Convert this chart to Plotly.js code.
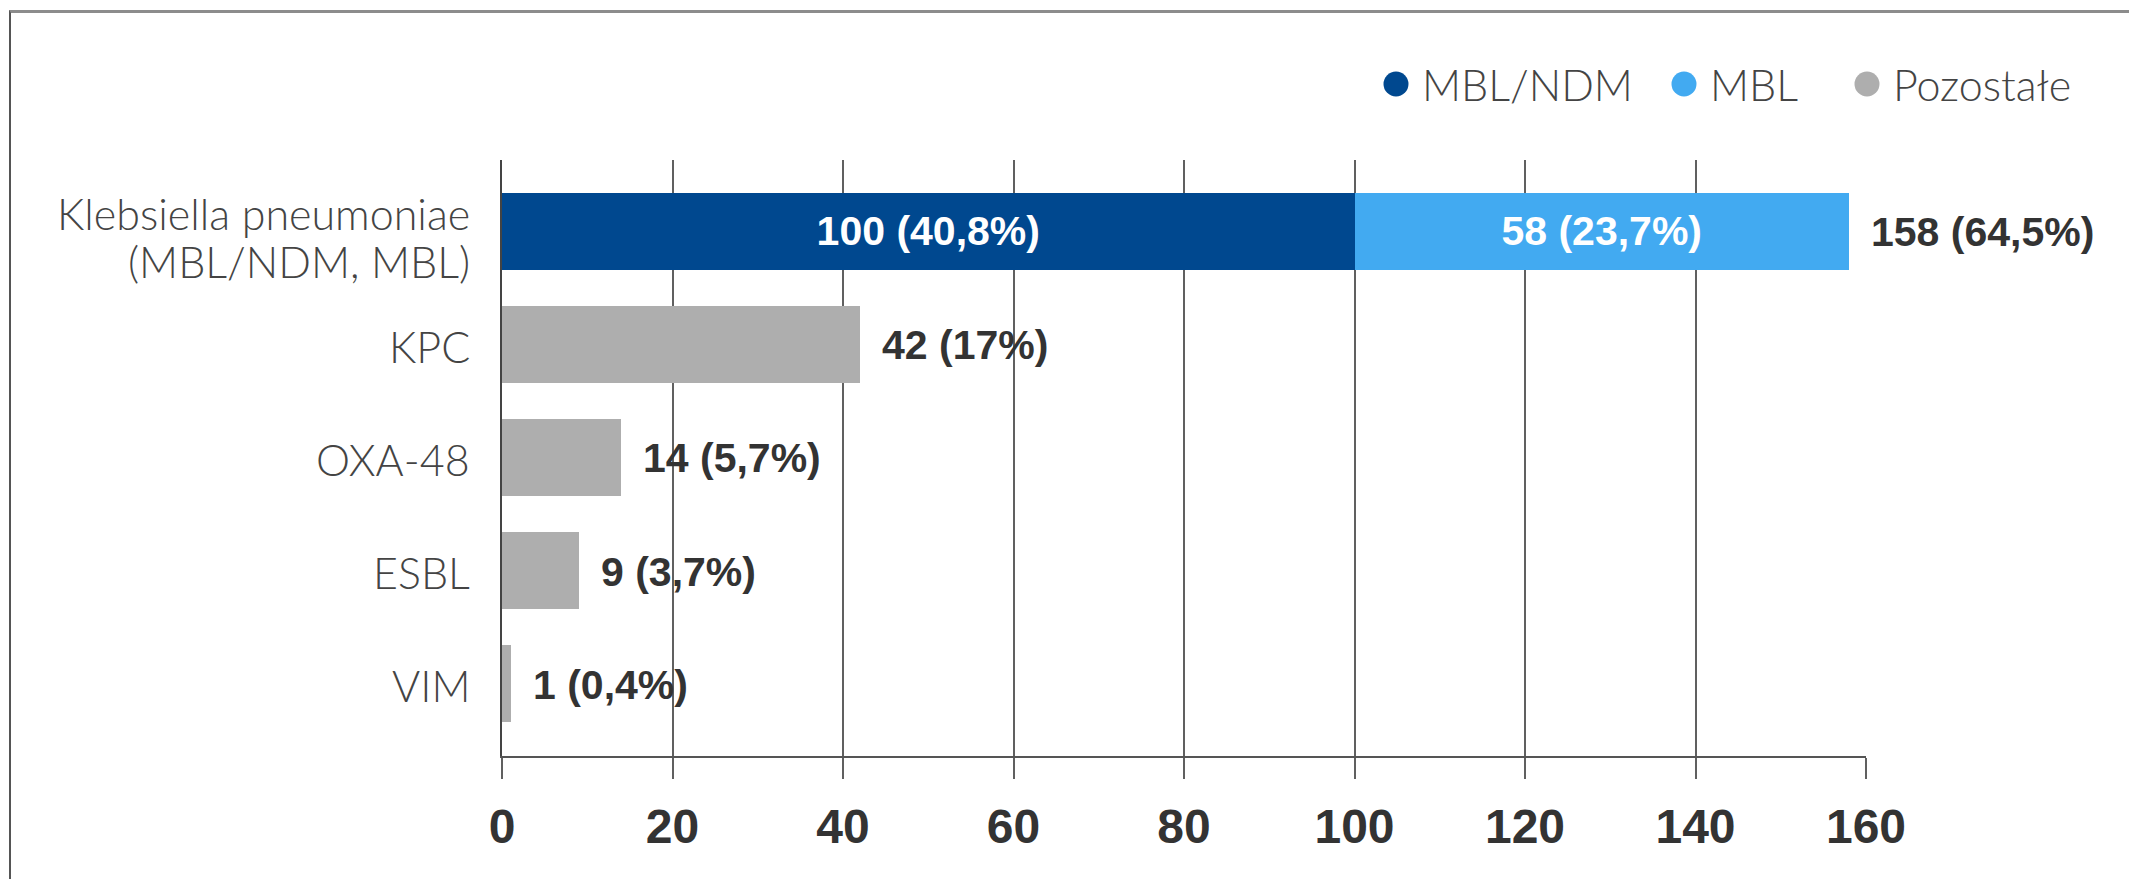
<!DOCTYPE html>
<html>
<head>
<meta charset="utf-8">
<script src="https://cdn.plot.ly/plotly-3.0.1.min.js"></script>
<style>
  html, body { margin: 0; padding: 0; background: #ffffff; }
  #wrap { position: relative; width: 2129px; height: 879px; overflow: hidden; }
  #frame {
    position: absolute; left: 9px; top: 10px; right: -10px; bottom: -10px;
    border-left: 2px solid #555555; border-top: 3px solid #8c8c8c;
    pointer-events: none;
  }
  #chart { position: absolute; left: 0; top: 0; width: 2129px; height: 879px; }
</style>
</head>
<body>
<div id="wrap">
  <div id="frame"></div>
  <div id="chart"></div>
</div>
<script>
// Rows, top to bottom
const categories = ['Klebsiella pneumoniae (MBL/NDM, MBL)', 'KPC', 'OXA-48', 'ESBL', 'VIM'];
const categoryLines = [['Klebsiella pneumoniae', '(MBL/NDM, MBL)'], ['KPC'], ['OXA-48'], ['ESBL'], ['VIM']];

// Klebsiella pneumoniae split into MBL/NDM and MBL
const kpCategories = ['Klebsiella pneumoniae (MBL/NDM, MBL)'];
const mblNdmValues = [100];
const mblNdmShares = ['40,8%'];
const mblValues = [58];
const mblShares = ['23,7%'];
const kpTotalShares = ['64,5%'];

// Remaining mechanisms
const otherCategories = ['KPC', 'OXA-48', 'ESBL', 'VIM'];
const otherValues = [42, 14, 9, 1];
const otherShares = ['17%', '5,7%', '3,7%', '0,4%'];

const seriesNames = ['MBL/NDM', 'MBL', 'Pozostałe'];
const seriesColors = ['#00488f', '#42aaf1', '#aeaeae'];

const xTicks = [0, 20, 40, 60, 80, 100, 120, 140, 160];

const lightFont = 'Lato, Roboto, sans-serif';
const boldFont = 'Liberation Sans, Arial, sans-serif';

const label = (v, s) => v + ' (' + s + ')';

const traces = [
  {
    type: 'bar', orientation: 'h', name: seriesNames[0],
    y: kpCategories, x: mblNdmValues,
    marker: { color: seriesColors[0] },
    text: mblNdmValues.map((v, i) => label(v, mblNdmShares[i])),
    textposition: 'inside', insidetextanchor: 'middle', constraintext: 'none',
    textfont: { family: boldFont, size: 41, color: '#ffffff', weight: 'bold' },
    showlegend: false, hoverinfo: 'skip'
  },
  {
    type: 'bar', orientation: 'h', name: seriesNames[1],
    y: kpCategories, x: mblValues,
    marker: { color: seriesColors[1] },
    text: mblValues.map((v, i) => label(v, mblShares[i])),
    textposition: 'inside', insidetextanchor: 'middle', constraintext: 'none',
    textfont: { family: boldFont, size: 41, color: '#ffffff', weight: 'bold' },
    showlegend: false, hoverinfo: 'skip'
  },
  {
    type: 'bar', orientation: 'h', name: seriesNames[2],
    y: otherCategories, x: otherValues,
    marker: { color: seriesColors[2] },
    showlegend: false, hoverinfo: 'skip'
  }
];

const annotations = [];

// Category labels, one annotation per text line
const labelFont = { family: lightFont, size: 43, color: '#444444', weight: 300 };
const lineGap = 48;
categories.forEach((cat, i) => {
  const lines = categoryLines[i];
  lines.forEach((txt, k) => {
    const down = (k - (lines.length - 1) / 2) * lineGap + (lines.length > 1 ? 6 : 2);
    annotations.push({
      xref: 'paper', yref: 'y', x: 0, y: cat,
      xanchor: 'right', yanchor: 'middle', xshift: -30, yshift: -down,
      text: txt, showarrow: false, font: labelFont
    });
  });
});

// Value labels to the right of the bars
const valueFont = { family: boldFont, size: 41, color: '#333333', weight: 'bold' };
kpCategories.forEach((cat, i) => {
  const total = mblNdmValues[i] + mblValues[i];
  annotations.push({
    xref: 'x', yref: 'y', x: total, y: cat, xanchor: 'left', yanchor: 'middle',
    xshift: 20, yshift: -1, text: label(total, kpTotalShares[i]),
    showarrow: false, font: valueFont
  });
});
otherCategories.forEach((cat, i) => {
  annotations.push({
    xref: 'x', yref: 'y', x: otherValues[i], y: cat, xanchor: 'left', yanchor: 'middle',
    xshift: 20, yshift: -1, text: label(otherValues[i], otherShares[i]),
    showarrow: false, font: valueFont
  });
});

// Legend drawn as round swatches with text
const plotLeft = 502, plotWidth = 1364, plotTop = 160, plotHeight = 596;
const legendMarkerPx = [1396, 1684, 1867];
const legendYPx = 84;
const toPaperX = px => (px - plotLeft) / plotWidth;
const toPaperY = py => (plotTop + plotHeight - py) / plotHeight;
const shapes = [];
seriesNames.forEach((name, i) => {
  const ax = toPaperX(legendMarkerPx[i]);
  const ay = toPaperY(legendYPx);
  shapes.push({
    type: 'circle', xref: 'paper', yref: 'paper',
    xsizemode: 'pixel', ysizemode: 'pixel', xanchor: ax, yanchor: ay,
    x0: -12.5, x1: 12.5, y0: -12.5, y1: 12.5,
    fillcolor: seriesColors[i], line: { width: 0 }
  });
  annotations.push({
    xref: 'paper', yref: 'paper', x: ax, y: ay, xanchor: 'left', yanchor: 'middle',
    xshift: 24, text: name, showarrow: false, font: labelFont
  });
});

const layout = {
  width: 2129, height: 879,
  margin: { l: plotLeft, r: 2129 - plotLeft - plotWidth, t: plotTop, b: 879 - plotTop - plotHeight, pad: 0 },
  paper_bgcolor: 'rgba(0,0,0,0)', plot_bgcolor: 'rgba(0,0,0,0)',
  barmode: 'stack', bargap: 0.32,
  showlegend: false, hovermode: false,
  xaxis: {
    range: [0, 160], tickvals: xTicks, ticktext: xTicks.map(String),
    showgrid: true, gridcolor: '#606060', gridwidth: 2,
    showline: true, linecolor: '#555555', linewidth: 2,
    ticks: 'outside', ticklen: 21, tickwidth: 2, tickcolor: '#606060',
    zeroline: false, fixedrange: true,
    tickfont: { family: boldFont, size: 48, color: '#333333', weight: 'bold' },
    ticklabelstandoff: 6
  },
  yaxis: {
    type: 'category', categoryorder: 'array', categoryarray: categories,
    range: [4.64, -0.63],
    showline: true, linecolor: '#444444', linewidth: 2,
    showticklabels: false, ticks: '', showgrid: false, zeroline: false, fixedrange: true
  },
  annotations: annotations,
  shapes: shapes
};

Plotly.newPlot('chart', traces, layout, { displayModeBar: false, staticPlot: true });
</script>
</body>
</html>
